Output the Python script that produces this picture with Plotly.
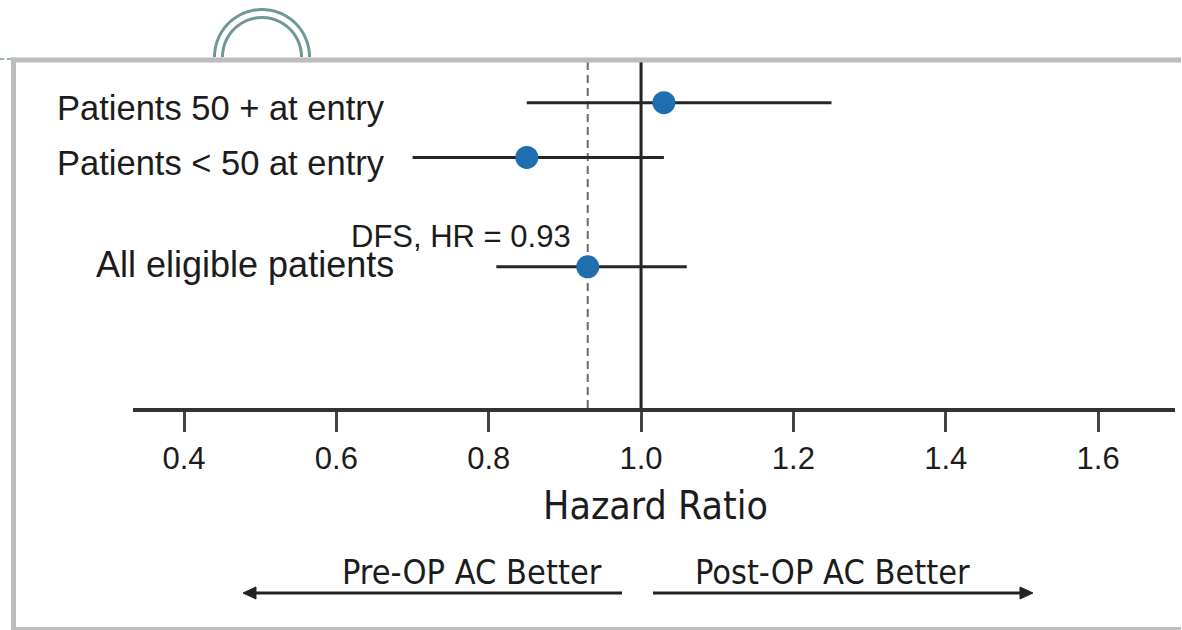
import numpy as np
import plotly.graph_objects as go

W, H = 1182, 630

# Subgroup hazard ratios with 95% confidence limits
groups = ["Patients 50 + at entry", "Patients < 50 at entry", "All eligible patients"]
hr = [1.03, 0.85, 0.93]
ci_low = [0.85, 0.70, 0.81]
ci_high = [1.25, 1.03, 1.06]
row_pos = [3, 2, 0]
overall_hr = 0.93
overall_label = "DFS, HR = 0.93"

tick_vals = [0.4, 0.6, 0.8, 1.0, 1.2, 1.4, 1.6]
tick_text = ["0.4", "0.6", "0.8", "1.0", "1.2", "1.4", "1.6"]
x_title = "Hazard Ratio"
left_arrow_text = "Pre-OP AC Better"
right_arrow_text = "Post-OP AC Better"

SANS = "Liberation Sans, Arial, Helvetica, sans-serif"
NARROW = "Liberation Sans Narrow, Arial Narrow, DejaVu Sans Condensed, sans-serif"
INK = "#1c1c1c"
TEAL = "#6f9995"
FRAME = "#bdbdbd"


def px(x):
    return x / W


def py(y):
    return 1 - y / H


fig = go.Figure()

fig.add_trace(
    go.Scatter(
        x=hr,
        y=row_pos,
        mode="markers",
        marker=dict(size=23, color="#1f6fb0", line=dict(width=0)),
        error_x=dict(
            type="data",
            symmetric=False,
            array=[h - m for h, m in zip(ci_high, hr)],
            arrayminus=[m - l for m, l in zip(hr, ci_low)],
            color="#262626",
            thickness=3,
            width=0,
        ),
        hoverinfo="skip",
        showlegend=False,
    )
)

shapes = []

# reference line at HR = 1 and the overall estimate
shapes.append(dict(type="line", xref="x", yref="y domain", x0=1.0, x1=1.0, y0=0, y1=1,
                   line=dict(color="#222222", width=3), layer="below"))
shapes.append(dict(type="line", xref="x", yref="y domain", x0=overall_hr, x1=overall_hr,
                   y0=0, y1=1, line=dict(color="#6a6a6a", width=2, dash="8px,5px"),
                   layer="below"))

# slide frame (open on the right)
shapes.append(dict(type="line", xref="paper", yref="paper", x0=px(11), x1=px(1181),
                   y0=py(60), y1=py(60), line=dict(color=FRAME, width=5)))
shapes.append(dict(type="line", xref="paper", yref="paper", x0=px(13.5), x1=px(13.5),
                   y0=py(57.5), y1=0, line=dict(color=FRAME, width=5)))
shapes.append(dict(type="line", xref="paper", yref="paper", x0=px(11), x1=px(1181),
                   y0=py(628.5), y1=py(628.5), line=dict(color=FRAME, width=3)))
shapes.append(dict(type="line", xref="paper", yref="paper", x0=0, x1=px(11),
                   y0=py(59), y1=py(59), line=dict(color=TEAL, width=1.5, dash="4px,3px")))

# double ring decoration on top of the frame
for r in (47.5, 39.5):
    theta = np.linspace(0, np.pi, 60)
    xs = 262 + r * np.cos(theta)
    ys = 57 - r * np.sin(theta)
    path = "M " + " L ".join(f"{px(a):.5f},{py(b):.5f}" for a, b in zip(xs, ys))
    shapes.append(dict(type="path", xref="paper", yref="paper", path=path,
                       line=dict(color=TEAL, width=3)))


def arrow(x_tail, x_tip, y):
    d = 1 if x_tip > x_tail else -1
    base = x_tip - d * 13
    shapes.append(dict(type="line", xref="paper", yref="paper", x0=px(x_tail), x1=px(base),
                       y0=py(y), y1=py(y), line=dict(color="#222222", width=3)))
    tri = (f"M {px(x_tip):.5f},{py(y):.5f} L {px(base):.5f},{py(y - 6):.5f} "
           f"L {px(base):.5f},{py(y + 6):.5f} Z")
    shapes.append(dict(type="path", xref="paper", yref="paper", path=tri,
                       fillcolor="#222222", line=dict(color="#222222", width=1)))


arrow(622, 243, 593)
arrow(653, 1033, 593)

annotations = []
label_x = [55, 55, 94]
label_shift = [-5, -6, 2]
label_size = [34.5, 34.5, 36]
for g, yv, lx, sh, fs in zip(groups, row_pos, label_x, label_shift, label_size):
    annotations.append(dict(text=g, xref="paper", yref="y", x=px(lx), y=yv, yshift=sh,
                            xanchor="left", yanchor="middle", showarrow=False,
                            font=dict(family=SANS, size=fs, color=INK)))

annotations.append(dict(text=overall_label, xref="x", yref="y", x=overall_hr, y=row_pos[2],
                        xshift=-15, yshift=30, xanchor="right", yanchor="middle",
                        showarrow=False, font=dict(family=SANS, size=31, color=INK)))

annotations.append(dict(text=x_title, xref="paper", yref="paper", x=px(655), y=py(505),
                        xanchor="center", yanchor="middle", showarrow=False,
                        font=dict(family=NARROW, size=39, color=INK)))
annotations.append(dict(text=left_arrow_text, xref="paper", yref="paper", x=px(604), y=py(572),
                        xanchor="right", yanchor="middle", showarrow=False,
                        font=dict(family=NARROW, size=34, color=INK)))
annotations.append(dict(text=right_arrow_text, xref="paper", yref="paper", x=px(693), y=py(572),
                        xanchor="left", yanchor="middle", showarrow=False,
                        font=dict(family=NARROW, size=34, color=INK)))

fig.update_layout(
    width=W,
    height=H,
    margin=dict(l=0, r=0, t=0, b=0),
    paper_bgcolor="white",
    plot_bgcolor="white",
    shapes=shapes,
    annotations=annotations,
    xaxis=dict(
        domain=[px(133), px(1175)],
        range=[0.333, 1.701],
        showline=True,
        linewidth=4,
        linecolor="#333333",
        ticks="outside",
        ticklen=20,
        tickwidth=3,
        tickcolor="#444444",
        tickvals=tick_vals,
        ticktext=tick_text,
        tickfont=dict(family=SANS, size=31, color=INK),
        showgrid=False,
        zeroline=False,
        fixedrange=True,
    ),
    yaxis=dict(
        domain=[py(408), py(62)],
        range=[-2.582, 3.745],
        visible=False,
        fixedrange=True,
    ),
)

fig.write_html("out.html")
